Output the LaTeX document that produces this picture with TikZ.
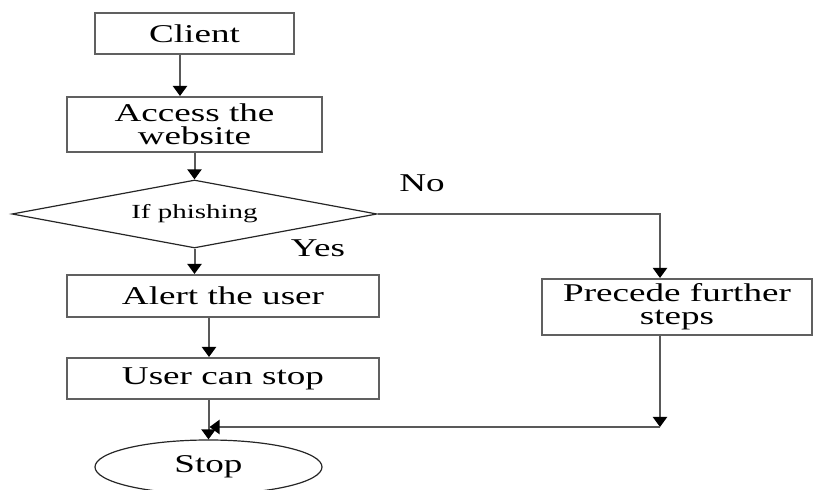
\documentclass[tikz,border=0pt]{standalone}
\usepackage{fontspec}
\setmainfont{Liberation Serif}[FakeStretch=1.45]
\usepackage{tikz}
\usetikzlibrary{arrows.meta,shapes.geometric}

\tikzset{
  box/.style={draw=gray!75!black, line width=1pt, inner sep=0pt, align=center,
    font=\fontsize{12.8}{11.5}\selectfont},
  decision/.style={draw=black!85, line width=0.6pt, diamond, inner sep=0pt,
    font=\fontsize{10}{10}\selectfont},
  terminal/.style={draw=black!85, line width=0.6pt, ellipse, inner sep=0pt,
    font=\fontsize{12.8}{11.5}\selectfont},
  flow/.style={draw=gray!70!black, line width=1pt,
    -{Triangle[width=7pt,length=5pt,color=black]}},
  tag/.style={inner sep=0pt, font=\fontsize{12.8}{11.5}\selectfont}
}

\begin{document}
\begin{tikzpicture}[x=0.5pt,y=-0.5pt]
    \useasboundingbox (0,0) rectangle (813,490);

    % Boxes of the main column
    \node[box, minimum width=99.5pt, minimum height=20.5pt] (client) at (194.5,33.5) {Client};
    \node[box, minimum width=127.5pt, minimum height=27.5pt] (access) at (194.5,124.5) {Access the\\website};
    \node[decision, minimum width=182.5pt, minimum height=34pt, aspect=5.4] (phish) at (194.5,214) {If phishing};
    \node[box, minimum width=156pt, minimum height=21pt] (alert) at (223,296) {Alert the user};
    \node[box, minimum width=156pt, minimum height=20.5pt] (canstop) at (223,378.5) {User can stop};
    \node[terminal, minimum width=113.5pt, minimum height=27pt] (stop) at (208.5,467) {Stop};

    % Box of the other branch
    \node[box, minimum width=135pt, minimum height=28pt] (further) at (677,307) {Precede further\\steps};

    % Labels of the decision
    \node[tag] (no) at (422,183) {No};
    \node[tag] (yes) at (318,248) {Yes};

    % Joining point
    \coordinate (join) at (660,427);

    % Arrows
    \draw[flow] (client.south -| 180,0) -- (access.north -| 180,0);
    \draw[flow] (access.south -| phish.north) -- (phish.north);
    \draw[flow] (phish.south) -- (phish.south |- alert.north);
    \draw[flow] ([xshift=-7pt]alert.south) -- ([xshift=-7pt]canstop.north);
    \draw[flow] (canstop.south -| stop.north) -- (stop.north);
    \draw[flow] (phish.east) -| ([xshift=-8.5pt]further.north);
    \draw[flow] ([xshift=-8.5pt]further.south) -- (join);
    \draw[flow] (join) -- ([xshift=0.5pt]join -| stop.north);
\end{tikzpicture}
\end{document}
